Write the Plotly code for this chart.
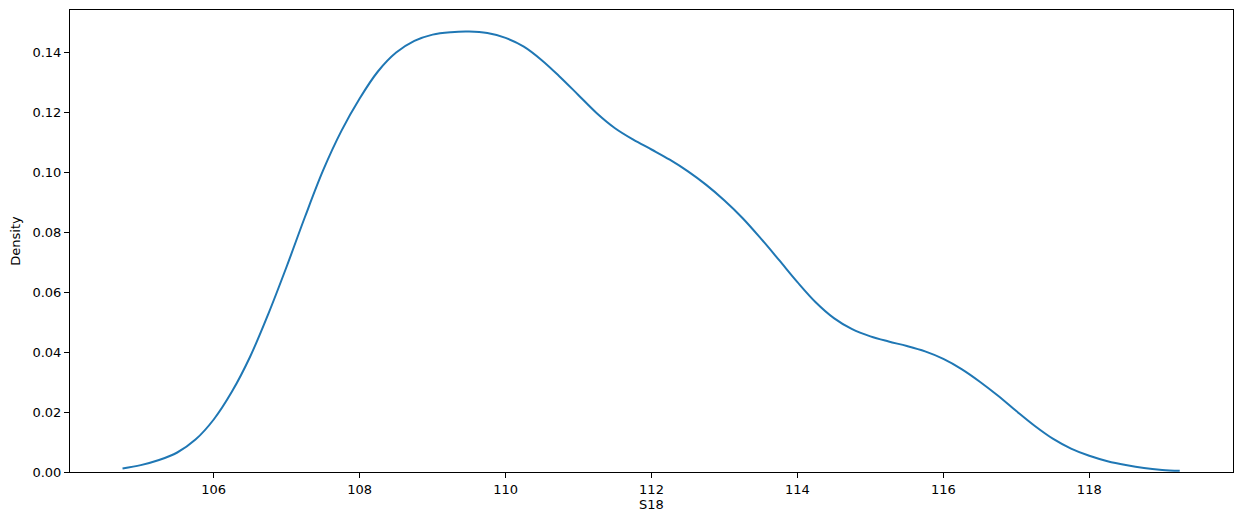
import plotly.graph_objects as go

x_vals = [104.75, 105.0, 105.25, 105.5, 105.75, 106.0, 106.25, 106.5, 106.75, 107.0,
          107.25, 107.5, 107.75, 108.0, 108.25, 108.5, 108.75, 109.0, 109.25, 109.5,
          109.75, 110.0, 110.25, 110.5, 110.75, 111.0, 111.25, 111.5, 111.75, 112.0,
          112.25, 112.5, 112.75, 113.0, 113.25, 113.5, 113.75, 114.0, 114.25, 114.5,
          114.75, 115.0, 115.25, 115.5, 115.75, 116.0, 116.25, 116.5, 116.75, 117.0,
          117.25, 117.5, 117.75, 118.0, 118.25, 118.5, 118.75, 119.0, 119.24]
density = [0.0012, 0.0023, 0.0040, 0.0065, 0.0108, 0.0175, 0.0268, 0.0385, 0.0528, 0.0685,
           0.0850, 0.1006, 0.1137, 0.1245, 0.1335, 0.1398, 0.1437, 0.1458, 0.1466, 0.1468,
           0.1463, 0.1447, 0.1418, 0.1372, 0.1316, 0.1256, 0.1196, 0.1146, 0.1108, 0.1075,
           0.1041, 0.1002, 0.0957, 0.0905, 0.0846, 0.0778, 0.0706, 0.0633, 0.0566, 0.0513,
           0.0476, 0.0452, 0.0435, 0.0420, 0.0402, 0.0377, 0.0343, 0.0301, 0.0254, 0.0203,
           0.0154, 0.0111, 0.0078, 0.0054, 0.0036, 0.0023, 0.0013, 0.0007, 0.0004]
x_ticks = [106, 108, 110, 112, 114, 116, 118]
y_ticks = [0.0, 0.02, 0.04, 0.06, 0.08, 0.10, 0.12, 0.14]

fig = go.Figure()
fig.add_trace(go.Scatter(x=x_vals, y=density, mode="lines",
                         line=dict(color="#1f77b4", width=2, shape="spline", smoothing=1.0),
                         showlegend=False))

axis_common = dict(showline=True, linecolor="black", linewidth=1, mirror=True,
                   ticks="outside", ticklen=5, tickcolor="black", showgrid=False,
                   zeroline=False, tickfont=dict(family="DejaVu Sans", size=13, color="black"))

# The page body has an 8px default margin, so the figure is sized and offset to compensate.
fig.update_layout(
    width=1234, height=517,
    margin=dict(l=62, r=9, t=2, b=53),
    paper_bgcolor="white", plot_bgcolor="white",
    font=dict(family="DejaVu Sans", size=13, color="black"),
    xaxis=dict(range=[104.03, 119.97], tickvals=x_ticks,
               title=dict(text="S18", standoff=2, font=dict(size=13)), **axis_common),
    yaxis=dict(range=[0, 0.154], tickvals=y_ticks, tickformat=".2f",
               title=dict(text="Density", standoff=8, font=dict(size=13)), **axis_common),
)

fig.write_html("out.html")
